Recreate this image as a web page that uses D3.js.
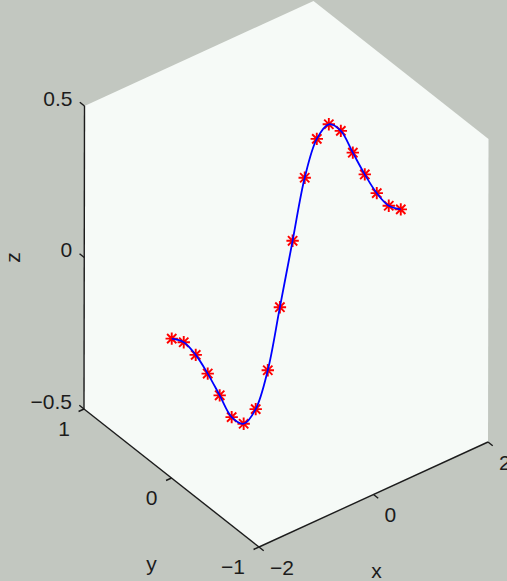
<!DOCTYPE html>
<html>
<head>
<meta charset="utf-8">
<script src="https://cdn.jsdelivr.net/npm/d3@7"></script>
<style>
  body { margin: 0; background: #c2c7c0; }
  svg { display: block; }
  text { font-family: "Liberation Sans", Arial, sans-serif; fill: #1c1c1c; }
</style>
</head>
<body>
<svg></svg>
<script>
const xVals = [-2, -1.79, -1.58, -1.37, -1.16, -0.95, -0.74, -0.53, -0.32, -0.11,
               0.11, 0.32, 0.53, 0.74, 0.95, 1.16, 1.37, 1.58, 1.79, 2]
const yVals = [0, 0, 0, 0, 0, 0, 0, 0, 0, 0, 0, 0, 0, 0, 0, 0, 0, 0, 0, 0]
const zVals = [-0.04, -0.07, -0.13, -0.21, -0.30, -0.39, -0.43, -0.40, -0.29, -0.10,
               0.10, 0.29, 0.40, 0.43, 0.39, 0.30, 0.21, 0.13, 0.07, 0.04]

const xTicks = [-2, 0, 2]
const yTicks = [-1, 0, 1]
const zTicks = [-0.5, 0, 0.5]
const xTickLabels = ["\u22122", "0", "2"]
const yTickLabels = ["\u22121", "0", "1"]
const zTickLabels = ["\u22120.5", "0", "0.5"]

const width = 507
const height = 581

const svg = d3.select("svg")
    .attr("width", width)
    .attr("height", height)

// each data axis -> 0..1 along the box edge
const xScale = d3.scaleLinear().domain([-2, 2]).range([0, 1])
const yScale = d3.scaleLinear().domain([-1, 1]).range([0, 1])
const zScale = d3.scaleLinear().domain([-0.5, 0.5]).range([0, 1])

// screen vectors of the box edges (view az -37.5, el 30)
const origin = [259, 547]
const ex = [229, -105]
const ey = [-175, -138]
const ez = [0.5, -303]

const project = function (x, y, z) {
    const u = xScale(x), v = yScale(y), w = zScale(z)
    return [
        origin[0] + u * ex[0] + v * ey[0] + w * ez[0],
        origin[1] + u * ex[1] + v * ey[1] + w * ez[1]
    ]
}

const unit = function (vec) {
    const len = Math.hypot(vec[0], vec[1])
    return [vec[0] / len, vec[1] / len]
}

// back planes (white hexagon)
const corners = [
    project(-2, 1, -0.5),
    project(-2, -1, -0.5),
    project(2, -1, -0.5),
    project(2, -1, 0.5),
    project(2, 1, 0.5),
    project(-2, 1, 0.5)
]
svg.append("polygon")
    .attr("points", corners.map(p => p.join(",")).join(" "))
    .style("fill", "#f6faf7")

const axes = svg.append("g")
    .style("stroke", "#1c1c1c")
    .style("stroke-width", 1.4)
    .style("fill", "none")

const axisLine = function (a, b) {
    axes.append("line")
        .attr("x1", a[0]).attr("y1", a[1])
        .attr("x2", b[0]).attr("y2", b[1])
}

axisLine(project(-2, -1, -0.5), project(2, -1, -0.5))   // x
axisLine(project(-2, 1, -0.5), project(-2, -1, -0.5))   // y
axisLine(project(-2, 1, -0.5), project(-2, 1, 0.5))     // z

const tickLen = 6
const tickX = unit([-ey[0], -ey[1]])   // x ticks point along -y
const tickY = unit([-ex[0], -ex[1]])   // y ticks point along -x
const tickZ = unit(ey)                 // z ticks point along +y

xTicks.forEach(function (t, i) {
    const p = project(t, -1, -0.5)
    axisLine(p, [p[0] + tickX[0] * tickLen, p[1] + tickX[1] * tickLen])
    svg.append("text")
        .attr("x", p[0] + 11)
        .attr("y", p[1] + 20)
        .attr("dominant-baseline", "central")
        .style("font-size", "21px")
        .text(xTickLabels[i])
})

yTicks.forEach(function (t, i) {
    const p = project(-2, t, -0.5)
    axisLine(p, [p[0] + tickY[0] * tickLen, p[1] + tickY[1] * tickLen])
    svg.append("text")
        .attr("x", p[0] - 14)
        .attr("y", p[1] + 19)
        .attr("text-anchor", "end")
        .attr("dominant-baseline", "central")
        .style("font-size", "21px")
        .text(yTickLabels[i])
})

zTicks.forEach(function (t, i) {
    const p = project(-2, 1, t)
    axisLine(p, [p[0] + tickZ[0] * tickLen, p[1] + tickZ[1] * tickLen])
    svg.append("text")
        .attr("x", p[0] - 12)
        .attr("y", p[1] - 8)
        .attr("text-anchor", "end")
        .attr("dominant-baseline", "central")
        .style("font-size", "21px")
        .text(zTickLabels[i])
})

// axis titles
const xMid = project(0, -1, -0.5)
svg.append("text")
    .attr("x", xMid[0] + 3)
    .attr("y", xMid[1] + 76)
    .attr("text-anchor", "middle")
    .attr("dominant-baseline", "central")
    .style("font-size", "21px")
    .text("x")

const yMid = project(-2, 0, -0.5)
svg.append("text")
    .attr("x", yMid[0] - 20)
    .attr("y", yMid[1] + 85)
    .attr("text-anchor", "middle")
    .attr("dominant-baseline", "central")
    .style("font-size", "21px")
    .text("y")

const zMid = project(-2, 1, 0)
svg.append("text")
    .attr("transform", `translate(${zMid[0] - 72}, ${zMid[1]}) rotate(-90)`)
    .attr("text-anchor", "middle")
    .attr("dominant-baseline", "central")
    .style("font-size", "21px")
    .text("z")

// data
const pts = xVals.map((x, i) => project(x, yVals[i], zVals[i]))

const starR = 6.2
const stars = svg.append("g")
    .style("stroke", "#ff0000")
    .style("stroke-width", 1.9)

stars.selectAll("path")
    .data(pts)
    .enter()
    .append("path")
    .attr("d", function (p) {
        const r = starR, d = starR * 0.75
        return `M${p[0] - r},${p[1]}L${p[0] + r},${p[1]}` +
            `M${p[0]},${p[1] - r}L${p[0]},${p[1] + r}` +
            `M${p[0] - d},${p[1] - d}L${p[0] + d},${p[1] + d}` +
            `M${p[0] - d},${p[1] + d}L${p[0] + d},${p[1] - d}`
    })

const lineGenerator = d3.line()
    .curve(d3.curveCatmullRom.alpha(0.5))

svg.append("path")
    .attr("d", lineGenerator(pts))
    .style("fill", "none")
    .style("stroke", "#0000ff")
    .style("stroke-width", 1.8)
</script>
</body>
</html>
